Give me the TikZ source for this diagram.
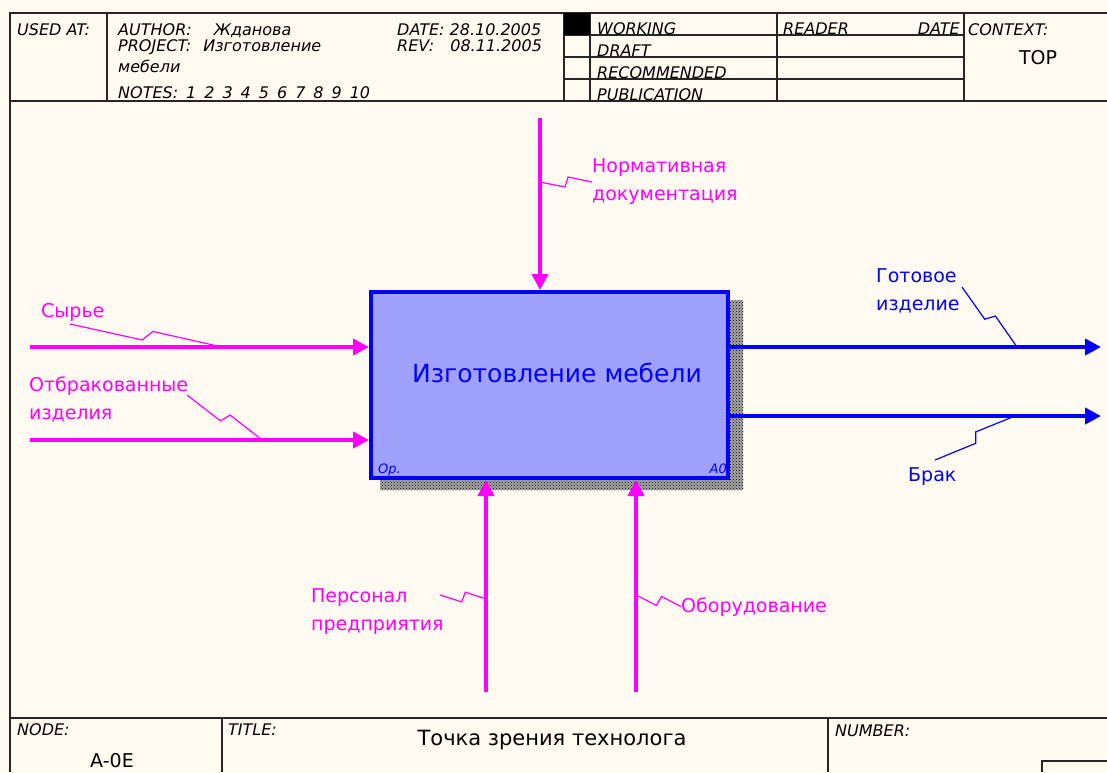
\documentclass[tikz,border=0pt]{standalone}
\usepackage{fontspec}
\setmainfont{DejaVu Sans}
\usetikzlibrary{positioning}
\usetikzlibrary{calc}
\usetikzlibrary{arrows.meta}
\usetikzlibrary{patterns}
\definecolor{paper}{RGB}{255,251,240}
\definecolor{mblue}{RGB}{0,0,255}
\definecolor{mmag}{RGB}{255,0,255}
\definecolor{mbox}{RGB}{160,161,252}
\newcommand{\fsz}[1]{\fontsize{#1}{28}\selectfont}
\tikzset{frm/.style = {line width=1.4pt, draw=black!85}}
\tikzset{hdr/.style = {anchor=base west, inner sep=0pt, font=\fsz{16}\itshape}}
\tikzset{lbl/.style = {inner sep=0pt, align=left, font=\fsz{19}, text=mmag}}
\tikzset{olbl/.style = {lbl, text=mblue}}
\tikzset{icm/.style = {draw=mmag, line width=4pt,
                       -{Triangle[length=16pt,width=16pt]}}}
\tikzset{outp/.style = {draw=mblue, line width=4pt,
                        -{Triangle[length=16pt,width=16pt]}}}
\tikzset{squig/.style = {line width=1.2pt,
    to path={-- ($(\tikztostart)!.48!(\tikztotarget)!5pt!-90:(\tikztotarget)$)
             -- ($(\tikztostart)!.54!(\tikztotarget)!5pt!90:(\tikztotarget)$)
             -- (\tikztotarget)}}}
\tikzset{funcbox/.style = {draw=mblue, line width=4pt, fill=mbox,
                           minimum width=357pt, minimum height=186pt, inner sep=0}}
\tikzset{shadow/.style = {pattern=crosshatch dots, pattern color=black}}

\begin{document}
\begin{tikzpicture}[x=1pt,y=-1pt]
  \useasboundingbox[fill=paper] (0,0) rectangle (1107,772);
  % form lines
  \draw[frm] (1107,13) -- (10,13) -- (10,772);
  \draw[frm] (10,101) -- (1107,101);
  \draw[frm] (107,13) -- (107,101);
  \foreach \x in {564,590,777,964} \draw[frm] (\x,13) -- (\x,101);
  \foreach \y in {35,57,79} \draw[frm] (564,\y) -- (964,\y);
  \fill[black] (564,13) rectangle (590,35);
  \draw[frm] (10,718) -- (1107,718);
  \draw[frm] (222,718) -- (222,772);
  \draw[frm] (828,718) -- (828,772);
  \draw[frm] (1107,761) -- (1042,761) -- (1042,772);
  % header
  \node[hdr] (usedat) at (17,35) {USED AT:};
  \node[hdr] (author) at (118,35) {AUTHOR:\hspace{22pt}Жданова};
  \node[hdr] (project) at (118,51) {PROJECT:\hspace{12pt}Изготовление};
  \node[hdr] (project2) at (118,72) {мебели};
  \node[hdr] (notes) at (118,98)
    {NOTES:\enspace1\enspace2\enspace3\enspace4\enspace5\enspace6\enspace7\enspace8\enspace9\enspace10};
  \node[hdr] (date) at (397,35) {DATE: 28.10.2005};
  \node[hdr] (rev) at (397,51) {REV:\hspace{16pt}08.11.2005};
  \node[hdr] (working) at (597,34) {WORKING};
  \node[hdr] (draft) at (597,56) {DRAFT};
  \node[hdr] (recom) at (597,78) {RECOMMENDED};
  \node[hdr] (public) at (597,100) {PUBLICATION};
  \node[hdr] (reader) at (783,34) {READER};
  \node[hdr, anchor=base east] (rdate) at (960,34) {DATE};
  \node[hdr] (context) at (968,35) {CONTEXT:};
  \node[inner sep=0, font=\fsz{19}] (top) at (1038,58) {TOP};
  % footer
  \node[hdr] (nodelbl) at (17,735) {NODE:};
  \node[inner sep=0, anchor=base, font=\fsz{19}] (nodenum) at (112,767) {A-0E};
  \node[hdr] (titlelbl) at (228,735) {TITLE:};
  \node[inner sep=0, anchor=base, font=\fsz{21}] (title) at (552,745)
    {Точка зрения технолога};
  \node[hdr] (numlbl) at (835,736) {NUMBER:};
  % activity box
  \fill[black!35] (728,300) rectangle (743,490) (380,478) rectangle (743,490);
  \fill[shadow] (728,300) rectangle (743,490) (380,478) rectangle (743,490);
  \node[funcbox] (func) at (549.5,385) {};
  \node[inner sep=0, font=\fsz{25}, text=mblue] (ftext) at (557,373)
    {Изготовление мебели};
  \node[inner sep=0, anchor=base west, font=\fsz{13}\itshape, text=mblue]
    (opnum) at (378,473) {Ор.};
  \node[inner sep=0, anchor=base east, font=\fsz{13}\itshape, text=mblue]
    (anum) at (727,473) {A0};
  % arrows
  \coordinate (ctop) at (540,118);
  \coordinate (in1) at (30,347);
  \coordinate (in2) at (30,440);
  \coordinate (out1) at (1101,347);
  \coordinate (out2) at (1101,416);
  \coordinate (m1) at (486,692);
  \coordinate (m2) at (636,692);
  \draw[icm] (ctop) -- (ctop |- func.north);
  \draw[icm] (in1) -- (in1 -| func.west);
  \draw[icm] (in2) -- (in2 -| func.west);
  \draw[icm] (m1) -- (m1 |- func.south);
  \draw[icm] (m2) -- (m2 |- func.south);
  \draw[outp] (out1 -| func.east) -- (out1);
  \draw[outp] (out2 -| func.east) -- (out2);
  % labels
  \node[lbl, anchor=west] (norm) at (592,182) {Нормативная\\документация};
  \node[lbl, anchor=base west] (syr) at (41,317) {Сырье};
  \node[lbl, anchor=west] (otbr) at (29,399) {Отбракованные\\изделия};
  \node[olbl, anchor=west] (gotov) at (876,291) {Готовое\\изделие};
  \node[olbl, anchor=base west] (brak) at (908,481) {Брак};
  \node[lbl, anchor=west] (pers) at (311,612) {Персонал\\предприятия};
  \node[lbl, anchor=base west] (obor) at (681,612) {Оборудование};
  % squiggles
  \coordinate (s1) at (540,182);
  \coordinate (s2a) at (70,324);
  \coordinate (s2b) at (222,347);
  \coordinate (s3a) at (187,395);
  \coordinate (s3b) at (262,440);
  \coordinate (s4a) at (962,287);
  \coordinate (s4b) at (1017,347);
  \coordinate (s5a) at (935,460);
  \coordinate (s5b) at (1015,416);
  \coordinate (s6a) at (440,595);
  \coordinate (s6b) at (486,599);
  \coordinate (s7a) at (636,595);
  \draw[squig, mmag] (s1) to (norm.west);
  \draw[squig, mmag] (s2a) to (s2b);
  \draw[squig, mmag] (s3a) to (s3b);
  \draw[squig, mblue] (s4a) to (s4b);
  \draw[squig, mblue] (s5a) to (s5b);
  \draw[squig, mmag] (s6a) to (s6b);
  \draw[squig, mmag] (s7a) to (obor.west);
\end{tikzpicture}
\end{document}
